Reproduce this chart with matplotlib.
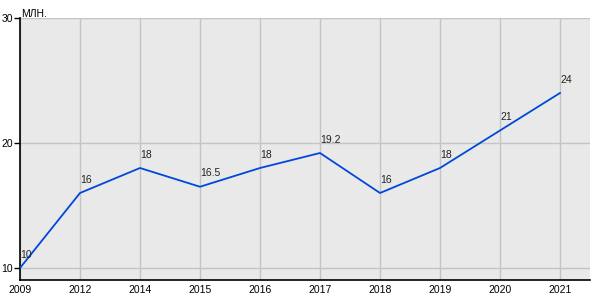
import matplotlib
matplotlib.use("Agg")
import matplotlib.pyplot as plt

years = ["2009", "2012", "2014", "2015", "2016", "2017", "2018", "2019", "2020", "2021"]
values = [10, 16, 18, 16.5, 18, 19.2, 16, 18, 21, 24]
value_labels = ["10", "16", "18", "16.5", "18", "19.2", "16", "18", "21", "24"]
y_ticks = [10, 20, 30]
unit = "МЛН."

plt.rcParams['font.family'] = ['Liberation Sans', 'DejaVu Sans']

fig = plt.figure(figsize=(6, 3), dpi=100)
ax = fig.add_axes([20/600, 1-280/300, 570/600, (280-18)/300])
ax.set_facecolor('#e9e9e9')
x = list(range(len(years)))
ax.plot(x, values, color='#0047dc', lw=1.3, zorder=3)
for xi, v, lab in zip(x, values, value_labels):
    ax.annotate(lab, (xi, v), xytext=(0, 6), textcoords='offset points',
                ha='left', va='bottom', fontsize=7.5, color='#222222', zorder=4)
ax.set_xlim(0, 9.5)
ax.set_ylim(9.04, 30)
ax.set_xticks(x)
ax.set_xticklabels(years, fontsize=7.5)
ax.set_yticks(y_ticks)
ax.set_yticklabels([str(t) for t in y_ticks], fontsize=7.5)
ax.grid(True, color='#c4c4c4', lw=1)
ax.set_axisbelow(True)
ax.tick_params(axis='x', length=0, pad=3.5)
ax.tick_params(axis='y', length=4, width=1, pad=1)
for s in ['top', 'right']:
    ax.spines[s].set_visible(False)
ax.spines['left'].set_color('black')
ax.spines['bottom'].set_color('black')
ax.spines['left'].set_linewidth(1.2)
ax.spines['bottom'].set_linewidth(1.2)
ax.text(0.02, 30.1, unit, transform=ax.transData, fontsize=7.5, ha='left', va='baseline', clip_on=False)
fig.savefig('out.png', dpi=100)
